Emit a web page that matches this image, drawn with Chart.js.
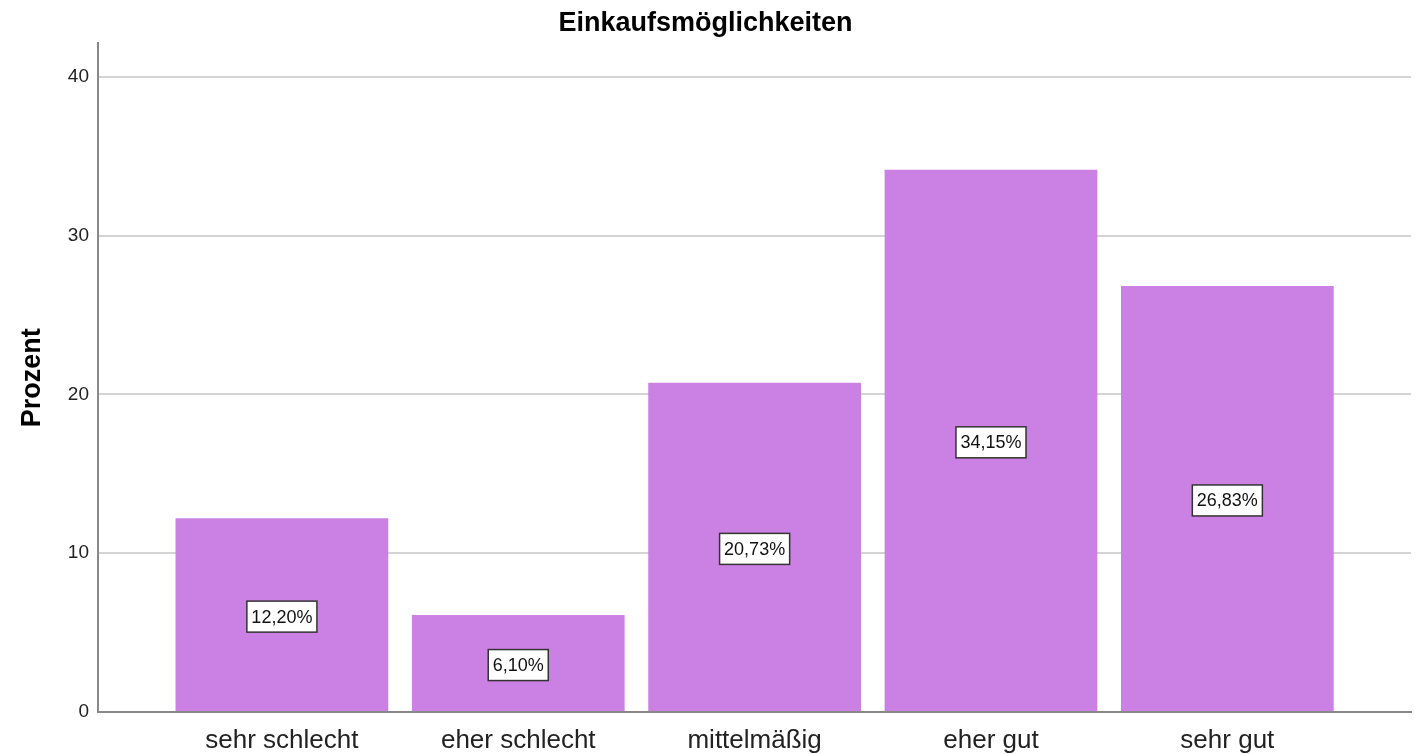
<!DOCTYPE html>
<html>
<head>
<meta charset="utf-8">
<style>
  html, body { margin: 0; padding: 0; background: #ffffff; }
  #wrap { width: 1419px; height: 754px; }
</style>
<script src="https://cdn.jsdelivr.net/npm/chart.js@4/dist/chart.umd.min.js"></script>
</head>
<body>
<div id="wrap"><canvas id="c" width="1419" height="754"></canvas></div>
<script>
const chartTitle = "Einkaufsmöglichkeiten";
const yAxisTitle = "Prozent";
const categories = ["sehr schlecht", "eher schlecht", "mittelmäßig", "eher gut", "sehr gut"];
const percentValues = [12.20, 6.10, 20.73, 34.15, 26.83];
const valueLabels = ["12,20%", "6,10%", "20,73%", "34,15%", "26,83%"];
const yTickValues = [0, 10, 20, 30, 40];

const FONT = "'Liberation Sans', Arial, sans-serif";

const labelBoxes = {
  id: 'labelBoxes',
  afterDatasetsDraw(chart) {
    const ctx = chart.ctx;
    const meta = chart.getDatasetMeta(0);
    ctx.save();
    ctx.font = "18px " + FONT;
    ctx.textAlign = 'center';
    ctx.textBaseline = 'middle';
    meta.data.forEach((bar, i) => {
      const txt = valueLabels[i];
      const cx = bar.x;
      const cy = (bar.y + bar.base) / 2 + 2;
      const w = ctx.measureText(txt).width + 9;
      const h = 31;
      ctx.fillStyle = '#ffffff';
      ctx.fillRect(cx - w / 2, cy - h / 2, w, h);
      ctx.lineWidth = 1.5;
      ctx.strokeStyle = '#333333';
      ctx.strokeRect(cx - w / 2, cy - h / 2, w, h);
      ctx.fillStyle = '#111111';
      ctx.fillText(txt, cx, cy + 1);
    });
    ctx.restore();
  }
};

new Chart(document.getElementById('c'), {
  type: 'bar',
  data: {
    datasets: [{
      data: categories.map((c, i) => ({ x: i, y: percentValues[i] })),
      backgroundColor: 'rgb(203,128,228)',
      borderWidth: 0,
      barPercentage: 0.9,
      categoryPercentage: 1.0
    }]
  },
  options: {
    responsive: false,
    animation: false,
    devicePixelRatio: 1,
    layout: { padding: { left: 0, right: 8, top: 0, bottom: 0 } },
    plugins: {
      legend: { display: false },
      tooltip: { enabled: false },
      title: {
        display: true,
        text: chartTitle,
        color: '#000000',
        font: { family: FONT, size: 27, weight: 'bold' },
        padding: { top: 7, bottom: 4 }
      }
    },
    scales: {
      x: {
        type: 'linear',
        offset: false,
        min: -0.778,
        max: 4.777,
        grid: { display: false, drawTicks: false, offset: false },
        border: { display: true, color: '#888888', width: 2 },
        afterBuildTicks: (s) => { s.ticks = categories.map((c, i) => ({ value: i })); },
        afterFit: (s) => { s.height = 42; },
        ticks: {
          autoSkip: false,
          maxRotation: 0,
          padding: 13,
          color: '#222222',
          font: { family: FONT, size: 26 },
          callback: (v) => categories[v] !== undefined ? categories[v] : ''
        }
      },
      y: {
        min: 0,
        max: 42.1,
        grid: { color: 'rgb(212,212,212)', lineWidth: 2, drawTicks: false },
        border: { display: true, color: '#888888', width: 2 },
        afterBuildTicks: (s) => { s.ticks = yTickValues.map(v => ({ value: v })); },
        afterFit: (s) => { s.width = 98; },
        title: {
          display: true,
          text: yAxisTitle,
          color: '#000000',
          font: { family: FONT, size: 27, weight: 'bold' },
          padding: { top: 16, bottom: 0 }
        },
        ticks: {
          padding: 9,
          color: '#222222',
          font: { family: FONT, size: 19 }
        }
      }
    }
  },
  plugins: [labelBoxes]
});
</script>
</body>
</html>
